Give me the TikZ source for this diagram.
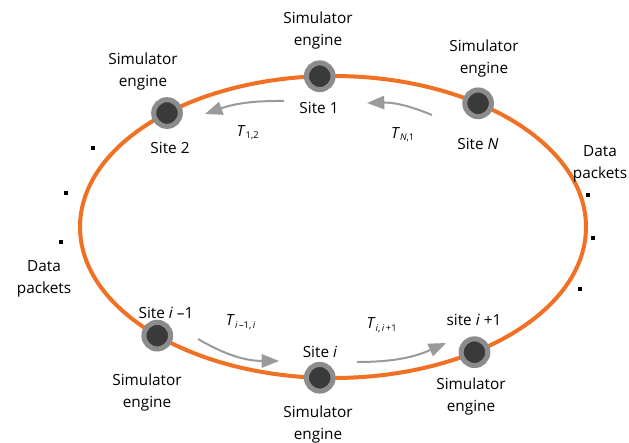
\documentclass[tikz,border=0pt]{standalone}
\usepackage{fontspec}
\setmainfont{Open Sans}
\usepackage{tikz}
\usetikzlibrary{calc, arrows.meta}
\definecolor{ringorange}{HTML}{F07024}
\definecolor{sitedark}{HTML}{3A3A3A}
\definecolor{siterim}{HTML}{8C8C8C}
\definecolor{flowgray}{HTML}{9A9A9A}

\begin{document}
\begin{tikzpicture}[x=0.75pt,y=-0.75pt]
\tikzstyle{site}=[circle,fill=sitedark,draw=siterim,line width=3.8pt,minimum size=20pt,inner sep=0pt]
\tikzstyle{lbl}=[font=\fontsize{11.5}{16.5}\selectfont,align=center,inner sep=0pt]
\tikzstyle{tlbl}=[font=\fontsize{11.5}{14}\selectfont,inner sep=0pt]
\tikzstyle{flow}=[draw=flowgray,line width=1.5pt,-{Triangle[length=13pt,width=10pt]}]
\tikzstyle{pkt}=[fill=black,minimum size=3.6pt,inner sep=0pt]
\useasboundingbox (0,0) rectangle (629,443);
\coordinate (C) at (333,227);
\draw[ringorange,line width=3pt] (C) ellipse [x radius=253,y radius=151];
% sites on the ring
\node[site] (S_1) at ($(C)+(93:253 and -151)$) {};
\node[site] (S_2) at ($(C)+(131:253 and -151)$) {};
\node[site] (S_N) at ($(C)+(55:253 and -151)$) {};
\node[site] (S_im) at ($(C)+(226:253 and -151)$) {};
\node[site] (S_i) at ($(C)+(267:253 and -151)$) {};
\node[site] (S_ip) at ($(C)+(304:253 and -151)$) {};
% labels
\node[lbl] (E_1) at (318,31) {Simulator\\engine};
\node[lbl] (L_1) at (319,108) {Site 1};
\node[lbl] (E_2) at (143,72) {Simulator\\engine};
\node[lbl] (L_2) at (170,148) {Site 2};
\node[lbl] (E_N) at (484,59) {Simulator\\engine};
\node[lbl] (L_N) at (478,144) {Site \textit{N}};
\node[lbl] (L_im) at (166,313) {Site \textit{i} –1};
\node[lbl] (E_im) at (147,393) {Simulator\\engine};
\node[lbl] (L_i) at (320,352) {Site \textit{i}};
\node[lbl] (E_i) at (318,425) {Simulator\\engine};
\node[lbl] (L_ip) at (474,320) {site \textit{i} +1};
\node[lbl] (E_ip) at (471,397) {Simulator\\engine};
% transfers
\coordinate (a_1) at (284,101);
\coordinate (b_1) at (205,114);
\coordinate (a_2) at (432,115);
\coordinate (b_2) at (367,103);
\coordinate (a_3) at (198,339);
\coordinate (b_3) at (279,361);
\coordinate (a_4) at (357,362);
\coordinate (b_4) at (446,343);
\draw[flow] (a_1) to[bend right=10] (b_1);
\draw[flow] (a_2) to[bend right=12] (b_2);
\draw[flow] (a_3) to[bend right=15] (b_3);
\draw[flow] (a_4) to[bend right=12] (b_4);
\node[tlbl] (T_12) at (248,133) {\textit{T}{\fontsize{10}{12}\selectfont\textsubscript{1,2}}};
\node[tlbl] (T_N1) at (403,135) {\textit{T}{\fontsize{10}{12}\selectfont\textsubscript{\textit{N},1}}};
\node[tlbl] (T_im) at (241,322) {\textit{T}{\fontsize{10}{12}\selectfont\textsubscript{\textit{i}\,–1,\,\textit{i}}}};
\node[tlbl] (T_ip) at (382,325) {\textit{T}{\fontsize{10}{12}\selectfont\textsubscript{\textit{i},\,\textit{i}\,+1}}};
% data packets
\node[pkt] (P_1) at (93,148) {};
\node[pkt] (P_2) at (66,193) {};
\node[pkt] (P_3) at (61,242) {};
\node[lbl] (D_l) at (44,279) {Data\\packets};
\node[lbl] (D_r) at (600,164) {Data\\packets};
\node[pkt] (P_4) at (588,195) {};
\node[pkt] (P_5) at (593,238) {};
\node[pkt] (P_6) at (580,289) {};
\end{tikzpicture}
\end{document}
